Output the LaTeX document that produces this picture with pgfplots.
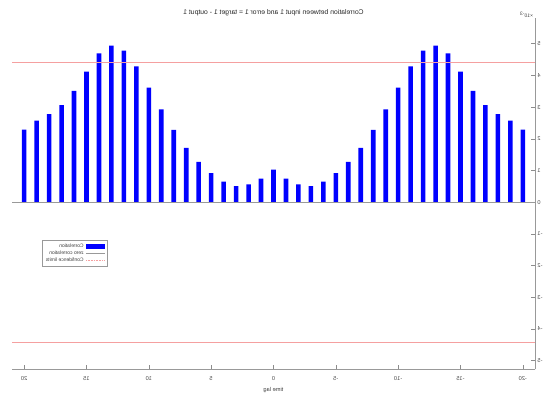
\documentclass[border=0pt]{standalone}
\usepackage{fontspec}
\setmainfont{Liberation Sans}
\usepackage{graphicx}
\usepackage{pgfplots}
\usepackage{pgfplotstable}
\pgfplotsset{compat=1.18}
\newcommand{\rb}[1]{\reflectbox{#1}}

\pgfplotstableread{
lag val
-20 2.29
-19 2.57
-18 2.78
-17 3.06
-16 3.51
-15 4.12
-14 4.69
-13 4.94
-12 4.78
-11 4.28
-10 3.61
-9 2.93
-8 2.28
-7 1.71
-6 1.27
-5 0.92
-4 0.65
-3 0.51
-2 0.56
-1 0.74
0 1.03
1 0.74
2 0.56
3 0.51
4 0.65
5 0.92
6 1.27
7 1.71
8 2.28
9 2.93
10 3.61
11 4.28
12 4.78
13 4.94
14 4.69
15 4.12
16 3.51
17 3.06
18 2.78
19 2.57
20 2.29
}\corrdata

\definecolor{conf}{RGB}{245,160,160}

\begin{document}
\begin{tikzpicture}
\path[use as bounding box] (0,0) rectangle (546bp,396bp);
\begin{axis}[
  name=ax,
  at={(11.7bp,26.7bp)}, anchor=south west,
  scale only axis, width=523.6bp, height=351bp,
  xmin=-21, xmax=21, ymin=-5.27, ymax=5.8,
  x dir=reverse,
  axis x line*=bottom, axis y line*=right,
  axis line style={black!40, line width=0.6bp},
  tick align=inside, major tick length=4bp,
  tick style={black!45, line width=0.5bp},
  xtick={-20,-15,...,20},
  xticklabels={\rb{-20},\rb{-15},\rb{-10},\rb{-5},\rb{0},\rb{5},\rb{10},\rb{15},\rb{20}},
  ytick={-5,-4,...,5},
  yticklabels={\rb{-5},\rb{-4},\rb{-3},\rb{-2},\rb{-1},\rb{0},\rb{1},\rb{2},\rb{3},\rb{4},\rb{5}},
  ticklabel style={font=\fontsize{5.7}{6}\selectfont, text=black!70},
  xticklabel style={anchor=center, yshift=-9.7bp},
  yticklabel style={anchor=west, inner sep=0pt, xshift=2bp},
  xlabel={\rb{time lag}},
  xlabel style={at={(axis description cs:0.5,0)}, anchor=center, yshift=-20.7bp, font=\fontsize{5.7}{6}\selectfont, text=black!75},
  every axis title shift=0pt,
  title={\rb{Correlation between input 1 and error 1 = target 1 - output 1}},
  title style={at={(axis description cs:0.5,1)}, anchor=center, yshift=5.5bp, font=\fontsize{6.85}{7}\selectfont, text=black!85},
  legend plot pos=right,
  legend cell align=right,
  legend style={at={(axis description cs:0.182,0.368)}, anchor=north east,
    draw=black!40, line width=0.4bp, font=\fontsize{5}{5.5}\selectfont,
    text=black!75, row sep=-2bp, inner sep=1.5bp},
]
\addplot[ybar, bar width=0.37, fill=blue, draw=none,
  legend image code/.code={\fill[blue] (0bp,-2.5bp) rectangle (19bp,2.5bp);}]
  table[x=lag, y=val] {\corrdata};
\addlegendentry{\rb{Correlation}}
\addplot[draw=black!40, line width=0.6bp,
  legend image code/.code={\draw[black!40, line width=0.6bp] (0bp,0bp) -- (19bp,0bp);}]
  coordinates {(-21,0) (21,0)};
\addlegendentry{\rb{zero correlation}}
\addplot[draw=conf, line width=0.7bp,
  legend image code/.code={\draw[conf, densely dotted, line width=0.6bp] (0bp,0bp) -- (19bp,0bp);}]
  coordinates {(-21,4.40) (21,4.40)};
\addlegendentry{\rb{Confidence limits}}
\addplot[draw=conf, line width=0.7bp, forget plot]
  coordinates {(-21,-4.41) (21,-4.41)};
\end{axis}
\node[anchor=south east, inner sep=0pt, font=\fontsize{5}{5.5}\selectfont, text=black!75]
  at (ax.north east) [xshift=-2bp, yshift=0.5bp] {\rb{×10\textsuperscript{-3}}};
\end{tikzpicture}
\end{document}
